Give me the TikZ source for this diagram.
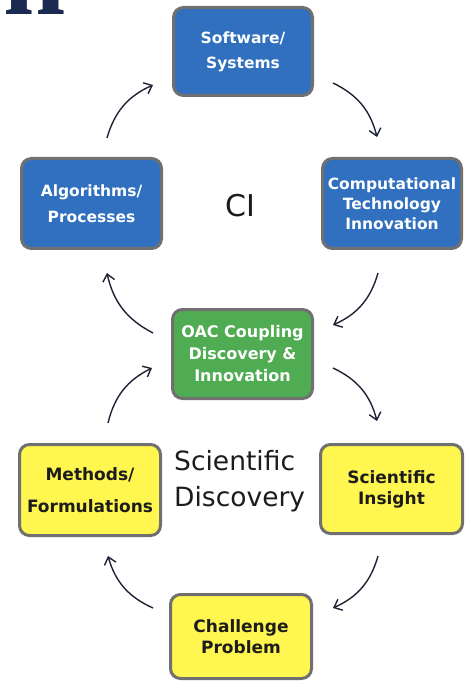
\documentclass[tikz,border=0pt]{standalone}
\usepackage{fontspec}
\setmainfont{DejaVu Sans}
\newfontfamily\titlefont{Liberation Serif}
\usetikzlibrary{arrows.meta}
\definecolor{cblue}{RGB}{48,112,190}
\definecolor{cgreen}{RGB}{80,172,82}
\definecolor{cyellow}{RGB}{255,246,80}
\definecolor{cborder}{RGB}{112,112,112}
\definecolor{carrow}{RGB}{30,34,52}
\definecolor{ctext}{RGB}{28,28,28}
\definecolor{cnavy}{RGB}{26,42,80}
\tikzset{
  box/.style={draw=cborder, line width=3pt, rounded corners=10pt, align=center, inner sep=2pt},
  bluebox/.style={box, fill=cblue, text=white, font=\bfseries\fontsize{15.5}{20}\selectfont},
  greenbox/.style={box, fill=cgreen, text=white, font=\bfseries\fontsize{16}{22}\selectfont},
  yellowbox/.style={box, fill=cyellow, text=ctext, font=\bfseries\fontsize{17}{21}\selectfont},
  cyc/.style={draw=carrow, line width=1.4pt, -{Straight Barb[length=7pt,width=12pt,line width=1.4pt]}, bend left=25},
  bigtext/.style={text=ctext, inner sep=0pt}
}
\begin{document}
\begin{tikzpicture}[x=1pt,y=-1pt]
\useasboundingbox (0,0) rectangle (467,684);
\begin{scope}
\clip (0,0) rectangle (467,684);
\node[anchor=base west, inner sep=0pt, text=cnavy, font=\titlefont\bfseries\fontsize{112}{112}\selectfont] (title) at (3,15) {n};
\end{scope}

\node[bluebox, minimum width=139pt, minimum height=88pt] (sw) at (243,51.5) {Software/\\[5pt]Systems};
\node[bluebox, minimum width=140pt, minimum height=90pt] (alg) at (91.5,203.5) {Algorithms/\\[6pt]Processes};
\node[bluebox, minimum width=139pt, minimum height=90pt] (comp) at (392,203.5) {Computational\\Technology\\Innovation};
\node[greenbox, minimum width=140pt, minimum height=89pt] (oac) at (242.5,354) {OAC Coupling\\Discovery \&\\Innovation};
\node[yellowbox, minimum width=141pt, minimum height=91pt] (meth) at (90,490) {Methods/\\[11pt]Formulations};
\node[yellowbox, minimum width=142pt, minimum height=89pt] (ins) at (391.5,489) {Scientific\\Insight};
\node[yellowbox, minimum width=141pt, minimum height=84pt] (chal) at (241,636.5) {Challenge\\Problem};

\node[bigtext, font=\fontsize{30}{30}\selectfont] (ci) at (240,206) {CI};
\node[bigtext, align=left, anchor=north west, font=\fontsize{26.5}{36}\selectfont] (sd) at (174,450) {Scientific\\Discovery};

\coordinate (a1s) at (107,138); \coordinate (a1e) at (153,85);
\coordinate (a2s) at (333,83);  \coordinate (a2e) at (377,137);
\coordinate (a3s) at (378,273); \coordinate (a3e) at (333,325);
\coordinate (a4s) at (153,333); \coordinate (a4e) at (107,273);
\coordinate (a5s) at (108,423); \coordinate (a5e) at (152,368);
\coordinate (a6s) at (333,368); \coordinate (a6e) at (377,421);
\coordinate (a7s) at (378,556); \coordinate (a7e) at (333,608);
\coordinate (a8s) at (153,608); \coordinate (a8e) at (108,556);

\draw[cyc] (a1s) to (a1e);
\draw[cyc] (a2s) to (a2e);
\draw[cyc] (a3s) to (a3e);
\draw[cyc] (a4s) to (a4e);
\draw[cyc] (a5s) to (a5e);
\draw[cyc] (a6s) to (a6e);
\draw[cyc] (a7s) to (a7e);
\draw[cyc] (a8s) to (a8e);
\end{tikzpicture}
\end{document}
